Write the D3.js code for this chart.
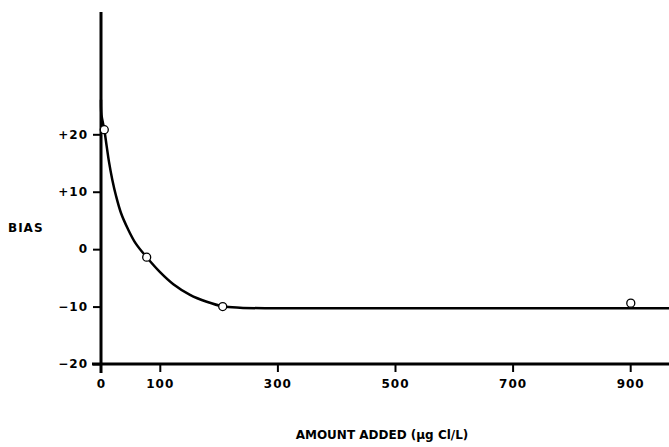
<!DOCTYPE html>
<html>
<head>
<meta charset="utf-8">
<script src="https://cdn.jsdelivr.net/npm/d3@7"></script>
<style>
  body { margin: 0; background: #fff; }
  text { font-family: "DejaVu Sans", Arial, sans-serif; font-weight: bold; fill: #000; }
</style>
</head>
<body>
<div id="chart"></div>
<script>
// measured points (amount added, bias)
var pointX = [5.6, 77.7, 207, 901];
var pointY = [20.8, -1.4, -10.0, -9.4];

// fitted curve
var curveX = [0, 0.8, 5.6, 9.7, 13.6, 19.2, 25.5, 34, 45.4, 59, 77.7, 100.4, 123, 151.4, 179.8, 207, 236.4, 287.5, 400, 600, 800, 966];
var curveY = [26.0, 23.4, 20.8, 17.9, 15.2, 12.1, 9.3, 6.3, 3.6, 1.0, -1.41, -4.0, -6.1, -7.95, -9.15, -9.95, -10.2, -10.3, -10.3, -10.3, -10.3, -10.3];

var xTicks = [0, 100, 300, 500, 700, 900];
var yTicks = [-20, -10, 0, 10, 20];

var xTitle = "AMOUNT ADDED (µg Cl/L)";
var yTitle = "BIAS";

function plotBias(containerId) {
    var WIDTH = 669;
    var HEIGHT = 447;

    var svg = d3.select('#' + containerId)
        .append("svg")
        .attr("width", WIDTH)
        .attr("height", HEIGHT);

    var xScale = d3.scaleLinear().domain([0, 966]).range([101, 669]);
    var yScale = d3.scaleLinear().domain([-20, 41.3]).range([364, 12]);

    // axis lines (they cross a little at the origin)
    svg.append("line")
        .attr("x1", xScale(0) - 9).attr("x2", xScale(966))
        .attr("y1", yScale(-20)).attr("y2", yScale(-20))
        .style("stroke", "#000").style("stroke-width", 3);
    svg.append("line")
        .attr("x1", xScale(0)).attr("x2", xScale(0))
        .attr("y1", yScale(41.3)).attr("y2", yScale(-20) + 9)
        .style("stroke", "#000").style("stroke-width", 3);

    var xAxis = d3.axisBottom(xScale).tickValues(xTicks).tickSize(8).tickPadding(7);
    var yAxis = d3.axisLeft(yScale).tickValues(yTicks).tickSize(8).tickPadding(5)
        .tickFormat(function(d) { return d > 0 ? "+" + d : (d < 0 ? "\u2212" + Math.abs(d) : "0"); });

    var gx = svg.append("g")
        .attr("transform", "translate(0, " + yScale(-20) + ")")
        .call(xAxis);
    var gy = svg.append("g")
        .attr("transform", "translate(" + xScale(0) + ", 0)")
        .call(yAxis);

    [gx, gy].forEach(function(g) {
        g.select(".domain").remove();
        g.selectAll(".tick line").style("stroke", "#000").style("stroke-width", 2);
        g.selectAll(".tick text")
            .style("font-size", "12px")
            .style("font-family", "'DejaVu Sans', Arial, sans-serif")
            .style("font-weight", "bold")
            .style("letter-spacing", "1px");
    });
    gx.selectAll(".tick").filter(function(d) { return d === 0; }).select("line").remove();

    var curveData = curveX.map(function(x, i) { return {x: x, y: curveY[i]}; });
    var line = d3.line()
        .x(function(d) { return xScale(d.x); })
        .y(function(d) { return yScale(d.y); })
        .curve(d3.curveCatmullRom);

    svg.append("path")
        .datum(curveData)
        .attr("d", line)
        .style("fill", "none")
        .style("stroke", "#000")
        .style("stroke-width", 2.5);

    var pts = pointX.map(function(x, i) { return {x: x, y: pointY[i]}; });
    svg.append("g")
        .selectAll("circle")
        .data(pts)
        .enter().append("circle")
        .attr("cx", function(d) { return xScale(d.x); })
        .attr("cy", function(d) { return yScale(d.y); })
        .attr("r", 4)
        .style("fill", "#fff")
        .style("stroke", "#000")
        .style("stroke-width", 1.3);

    svg.append("text")
        .attr("x", 8)
        .attr("y", yScale(3.7))
        .attr("dy", "0.35em")
        .style("font-size", "12px")
        .style("letter-spacing", "1px")
        .text(yTitle);

    svg.append("text")
        .attr("x", 382)
        .attr("y", 439)
        .attr("text-anchor", "middle")
        .style("font-size", "12px")
        .text(xTitle);
}

plotBias("chart");
</script>
</body>
</html>
